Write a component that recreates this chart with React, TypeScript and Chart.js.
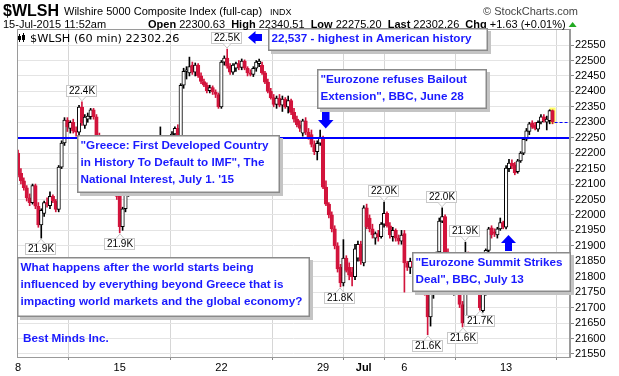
import React, { useEffect, useRef } from 'react';
import { Chart, registerables } from 'chart.js';

Chart.register(...registerables);

// ---------- data ----------
const sessionDays = ['Jun 8', 'Jun 9', 'Jun 10', 'Jun 11', 'Jun 12', 'Jun 15', 'Jun 16', 'Jun 17', 'Jun 18', 'Jun 19',
  'Jun 22', 'Jun 23', 'Jun 24', 'Jun 25', 'Jun 26', 'Jun 29', 'Jun 30', 'Jul 1', 'Jul 2', 'Jul 6', 'Jul 7', 'Jul 8',
  'Jul 9', 'Jul 10', 'Jul 13', 'Jul 14', 'Jul 15'];
const sessionHours = ['09:30', '10:30', '11:30', '12:30', '13:30', '14:30', '15:30'];

const opens = [
  22200, 22135, 22110, 22088, 22055, 22040, 22095, 22028, 21968, 22005, 22040, 22030, 22060, 22045,
  22018, 22155, 22233, 22307, 22280, 22300, 22272, 22268, 22349, 22290, 22310, 22318, 22340, 22318,
  22255, 22210, 22170, 22190, 22140, 22110, 22100, 22060, 21962, 22020, 22070, 22095, 22080, 22105,
  22090, 22110, 22130, 22120, 22150, 22165, 22150, 22190, 22240, 22215, 22230, 22220, 22262, 22280,
  22252, 22420, 22465, 22460, 22485, 22462, 22485, 22450, 22432, 22420, 22402, 22412, 22398, 22390,
  22350, 22495, 22508, 22482, 22462, 22475, 22490, 22478, 22498, 22475, 22460, 22455, 22475, 22490,
  22485, 22460, 22430, 22400, 22380, 22358, 22378, 22355, 22375, 22350, 22370, 22332, 22310, 22292,
  22265, 22305, 22268, 22260, 22228, 22205, 22232, 22250, 22090, 22035, 22000, 21955, 21900, 21830,
  21780, 21860, 21830, 21815, 21800, 21860, 21905, 21845, 22023, 21990, 21955, 21925, 21940, 21930,
  21970, 22005, 21965, 21930, 21950, 21925, 21915, 21940, 21845, 21830, 21850, 21830, 21845, 21810,
  21830, 21750, 21670, 21750, 21790, 21880, 21980, 21995, 21880, 21815, 21775, 21790, 21760, 21710,
  21650, 21860, 21830, 21800, 21770, 21760, 21690, 21745, 21885, 21958, 21945, 21935, 21955, 21975,
  21960, 22150, 22168, 22162, 22140, 22175, 22200, 22245, 22270, 22298, 22290, 22278, 22300, 22318,
  22300.63, 22305, 22338,
];
const highs = [
  22210, 22150, 22120, 22095, 22068, 22100, 22100, 22040, 22020, 22045, 22055, 22075, 22065, 22050,
  22160, 22240, 22315, 22315, 22305, 22310, 22285, 22355, 22366, 22325, 22330, 22345, 22345, 22325,
  22265, 22220, 22200, 22195, 22150, 22125, 22110, 22070, 22025, 22075, 22110, 22110, 22120, 22125,
  22120, 22140, 22150, 22160, 22175, 22180, 22200, 22285, 22255, 22240, 22250, 22270, 22285, 22292,
  22425, 22475, 22480, 22511, 22495, 22492, 22490, 22460, 22440, 22428, 22420, 22418, 22405, 22395,
  22500, 22515, 22537, 22490, 22490, 22495, 22500, 22505, 22502, 22480, 22470, 22480, 22500, 22505,
  22495, 22465, 22440, 22410, 22390, 22385, 22390, 22385, 22380, 22385, 22375, 22345, 22320, 22305,
  22310, 22315, 22280, 22275, 22240, 22240, 22275, 22255, 22110, 22040, 22010, 21965, 21910, 21840,
  21920, 21868, 21845, 21830, 21905, 21915, 21915, 22030, 22035, 22000, 21970, 21945, 21950, 21975,
  22042, 22010, 21975, 21960, 21955, 21935, 21950, 21950, 21850, 21860, 21870, 21860, 21865, 21840,
  21840, 21760, 21760, 21800, 21880, 21990, 22023, 22000, 21890, 21840, 21800, 21810, 21770, 21720,
  21912, 21880, 21850, 21820, 21790, 21765, 21750, 21890, 21960, 21965, 21955, 21960, 21990, 21980,
  22160, 22180, 22178, 22170, 22180, 22205, 22250, 22280, 22300, 22305, 22300, 22305, 22325, 22325,
  22320, 22340.51, 22340,
];
const lows = [
  22123, 22100, 22080, 22045, 22030, 22035, 22020, 21960, 21925, 21995, 22025, 22020, 22040, 22010,
  22010, 22150, 22225, 22270, 22265, 22265, 22255, 22260, 22290, 22280, 22300, 22310, 22310, 22245,
  22200, 22160, 22150, 22130, 22100, 22085, 22050, 21942, 21950, 22010, 22060, 22065, 22068, 22070,
  22080, 22100, 22110, 22115, 22140, 22140, 22145, 22180, 22200, 22195, 22205, 22210, 22240, 22245,
  22245, 22410, 22440, 22450, 22455, 22450, 22445, 22425, 22415, 22395, 22395, 22390, 22380, 22345,
  22345, 22485, 22475, 22455, 22455, 22465, 22470, 22470, 22470, 22450, 22450, 22448, 22465, 22480,
  22455, 22425, 22395, 22375, 22350, 22345, 22350, 22335, 22345, 22330, 22325, 22300, 22285, 22270,
  22255, 22260, 22245, 22220, 22195, 22178, 22225, 22085, 22030, 21990, 21945, 21890, 21815, 21767,
  21770, 21815, 21790, 21770, 21790, 21850, 21840, 21835, 21955, 21945, 21925, 21905, 21915, 21925,
  21960, 21960, 21925, 21915, 21915, 21905, 21905, 21750, 21820, 21810, 21820, 21815, 21800, 21790,
  21740, 21612, 21640, 21730, 21780, 21870, 21975, 21870, 21800, 21760, 21740, 21745, 21700, 21637,
  21640, 21810, 21790, 21760, 21750, 21692, 21685, 21740, 21875, 21925, 21930, 21925, 21950, 21955,
  21955, 22140, 22150, 22130, 22135, 22170, 22195, 22240, 22260, 22280, 22275, 22270, 22295, 22300,
  22275.2, 22295, 22295,
];
const closes = [
  22129, 22110, 22088, 22055, 22040, 22095, 22028, 21968, 22015, 22040, 22035, 22060, 22045, 22018,
  22155, 22233, 22307, 22285, 22300, 22272, 22268, 22349, 22298, 22317, 22320, 22340, 22318, 22255,
  22210, 22170, 22190, 22140, 22110, 22100, 22060, 21962, 22020, 22070, 22095, 22080, 22105, 22090,
  22110, 22130, 22120, 22150, 22165, 22150, 22190, 22240, 22215, 22230, 22220, 22262, 22280, 22252,
  22420, 22465, 22470, 22480, 22462, 22485, 22450, 22432, 22420, 22402, 22412, 22398, 22390, 22350,
  22495, 22508, 22482, 22462, 22485, 22490, 22478, 22498, 22475, 22460, 22455, 22475, 22495, 22498,
  22460, 22430, 22400, 22380, 22358, 22378, 22355, 22375, 22350, 22370, 22332, 22310, 22292, 22280,
  22305, 22268, 22250, 22228, 22205, 22232, 22252, 22090, 22035, 22000, 21955, 21900, 21825, 21780,
  21860, 21820, 21805, 21800, 21890, 21905, 21850, 22023, 21962, 21955, 21935, 21940, 21930, 21970,
  22005, 21965, 21935, 21950, 21925, 21915, 21935, 21845, 21830, 21850, 21830, 21845, 21810, 21825,
  21750, 21670, 21750, 21790, 21870, 21980, 21995, 21880, 21815, 21775, 21790, 21760, 21710, 21650,
  21860, 21830, 21800, 21770, 21760, 21700, 21745, 21885, 21955, 21935, 21940, 21955, 21975, 21960,
  22152, 22168, 22158, 22136, 22175, 22200, 22245, 22272, 22295, 22285, 22280, 22300, 22318, 22305,
  22310, 22338, 22302.26,
];

const barLabels = sessionDays.flatMap(d => sessionHours.map(h => `${d} ${h}`)).slice(0, closes.length);

const xTickBars = [0, 35, 70, 105, 119, 133, 168];
const xTickLabels = ['8', '15', '22', '29', 'Jul', '6', '13'];
const yTickValues = [21550, 21600, 21650, 21700, 21750, 21800, 21850, 21900, 21950, 22000, 22050, 22100,
  22150, 22200, 22250, 22300, 22350, 22400, 22450, 22500, 22550];

const supportLevel = 22250;

// high / low value tags: bar index, text, above?
const tagBars = [22, 8, 35, 72, 111, 126, 146, 141, 153, 154, 159];
const tagTexts = ['22.4K', '21.9K', '21.9K', '22.5K', '21.8K', '22.0K', '22.0K', '21.6K', '21.6K', '21.9K', '21.7K'];
const tagAbove = [true, false, false, true, false, true, true, false, false, true, false];

const headerQuote = [
  ['Open', ' 22300.63  '], ['High', ' 22340.51  '], ['Low', ' 22275.20  '], ['Last', ' 22302.26  '], ['Chg', ' +1.63 (+0.01%)'],
];

const notes = [
  { x: 268, y: 28, w: 220, h: 23, lines: ['22,537 - highest in American history'] },
  { x: 317, y: 69, w: 170, h: 40, lines: ['"Eurozone refuses Bailout', 'Extension", BBC, June 28'] },
  { x: 77, y: 135, w: 203, h: 58, lines: ['"Greece: First Developed Country', 'in History To Default to IMF", The', "National Interest, July 1. '15"] },
  { x: 17, y: 257, w: 293, h: 60, lines: ['What happens after the world starts being', 'influenced by everything beyond Greece that is', 'impacting world markets and the global economy?'] },
  { x: 412, y: 252, w: 159, h: 40, lines: ['"Eurozone Summit Strikes', 'Deal", BBC, July 13'] },
];

const FONT = '"Liberation Sans", Arial, sans-serif';
const BLUE = '#1a1aff';
const RED = '#d2143c';

function drawNote(ctx: CanvasRenderingContext2D, n: { x: number; y: number; w: number; h: number; lines: string[] }) {
  ctx.fillStyle = '#c4c4c4';
  ctx.fillRect(n.x + 3, n.y + 3, n.w, n.h);
  ctx.fillStyle = '#ffffff';
  ctx.fillRect(n.x, n.y, n.w, n.h);
  ctx.strokeStyle = '#8a8a8a';
  ctx.lineWidth = 1.5;
  ctx.strokeRect(n.x + 0.75, n.y + 0.75, n.w - 1.5, n.h - 1.5);
  ctx.fillStyle = BLUE;
  ctx.font = `bold 11.7px ${FONT}`;
  ctx.textAlign = 'left';
  ctx.textBaseline = 'middle';
  n.lines.forEach((t, k) => ctx.fillText(t, n.x + 3.5, n.y + 11 + k * 16.8));
}

function poly(ctx: CanvasRenderingContext2D, pts: number[][]) {
  ctx.beginPath();
  ctx.moveTo(pts[0][0], pts[0][1]);
  for (let i = 1; i < pts.length; i++) ctx.lineTo(pts[i][0], pts[i][1]);
  ctx.closePath();
  ctx.fill();
}

const decor = {
  id: 'decor',
  beforeDatasetsDraw(chart: any) {
    const { ctx, scales } = chart;
    const last = closes.length - 1;
    const x = scales.x.getPixelForValue(last);
    const yT = scales.y.getPixelForValue(Math.max(opens[last], closes[last]));
    const yB = scales.y.getPixelForValue(Math.min(opens[last], closes[last]));
    ctx.save();
    ctx.fillStyle = '#ffff66';
    ctx.fillRect(x - 3, yT - 3, 6, yB - yT + 5);
    ctx.restore();
  },
  afterDatasetsDraw(chart: any) {
    const { ctx, scales, chartArea } = chart;
    ctx.save();
    const y = Math.round(scales.y.getPixelForValue(supportLevel));
    ctx.strokeStyle = '#0000ff';
    ctx.lineWidth = 2;
    ctx.beginPath();
    ctx.moveTo(chartArea.left, y);
    ctx.lineTo(chartArea.right, y);
    ctx.stroke();
    const last = closes.length - 1;
    const yl = Math.round(scales.y.getPixelForValue(closes[last])) + 0.5;
    ctx.lineWidth = 1;
    ctx.setLineDash([3, 2]);
    ctx.beginPath();
    ctx.moveTo(scales.x.getPixelForValue(last) + 2, yl);
    ctx.lineTo(chartArea.right, yl);
    ctx.stroke();
    ctx.setLineDash([]);
    ctx.strokeStyle = '#9a9a9a';
    ctx.lineWidth = 1;
    ctx.strokeRect(chartArea.left + 0.5, chartArea.top + 0.5, chartArea.right - chartArea.left - 1, chartArea.bottom - chartArea.top);
    ctx.restore();
  },
  afterDraw(chart: any) {
    const { ctx, scales } = chart;
    ctx.save();
    ctx.textAlign = 'left';
    ctx.textBaseline = 'alphabetic';
    ctx.fillStyle = '#000';
    ctx.font = `bold 16px ${FONT}`;
    ctx.fillText('$WLSH', 3, 16);
    ctx.font = `11px ${FONT}`;
    ctx.fillText('Wilshire 5000 Composite Index (full-cap)', 64, 15);
    ctx.font = `9px ${FONT}`;
    ctx.fillText('INDX', 270, 15);
    ctx.font = `11px ${FONT}`;
    ctx.fillStyle = '#444';
    ctx.textAlign = 'right';
    ctx.fillText('\u00a9 StockCharts.com', 578, 15);
    ctx.textAlign = 'left';
    ctx.fillStyle = '#000';
    ctx.fillText('15-Jul-2015 11:52am', 3, 28);
    let hx = 148;
    headerQuote.forEach(([lab, val]) => {
      ctx.font = `bold 11px ${FONT}`;
      ctx.fillText(lab, hx, 28);
      hx += ctx.measureText(lab).width;
      ctx.font = `11px ${FONT}`;
      ctx.fillText(val, hx, 28);
      hx += ctx.measureText(val).width;
    });
    ctx.fillStyle = '#22aa22';
    poly(ctx, [[hx + 3, 27], [hx + 11, 27], [hx + 7, 22]]);

    ctx.fillStyle = '#000';
    ctx.fillRect(19, 34, 1, 8);
    ctx.fillRect(18, 36, 3, 4);
    ctx.fillRect(23, 33, 1, 9);
    ctx.strokeStyle = '#000';
    ctx.lineWidth = 1;
    ctx.strokeRect(22.5, 35.5, 2, 4);
    ctx.font = `11.3px "DejaVu Sans", sans-serif`;
    ctx.fillText('$WLSH (60 min) 22302.26', 30, 42);

    tagBars.forEach((b, k) => {
      const cx = Math.round(scales.x.getPixelForValue(b));
      const above = tagAbove[k];
      const py = scales.y.getPixelForValue(above ? highs[b] : lows[b]);
      ctx.font = `10px ${FONT}`;
      const w = Math.round(ctx.measureText(tagTexts[k]).width) + 5;
      const h = 12;
      const bx = cx - Math.round(w / 2);
      const by = above ? Math.round(py - 5 - h) : Math.round(py + 5);
      const edge = above ? by + h : by;
      const tip = above ? py - 1 : py + 1;
      ctx.fillStyle = '#fff';
      ctx.fillRect(bx, by, w, h);
      ctx.strokeStyle = '#c8c8c8';
      ctx.lineWidth = 1;
      ctx.strokeRect(bx + 0.5, by + 0.5, w - 1, h - 1);
      ctx.beginPath();
      ctx.moveTo(cx - 4, edge + (above ? -0.5 : 0.5));
      ctx.lineTo(cx, tip);
      ctx.lineTo(cx + 4, edge + (above ? -0.5 : 0.5));
      ctx.fill();
      ctx.stroke();
      ctx.fillStyle = '#000';
      ctx.textAlign = 'center';
      ctx.textBaseline = 'middle';
      ctx.fillText(tagTexts[k], cx, by + h / 2 + 0.5);
    });

    notes.forEach(n => drawNote(ctx, n));
    ctx.fillStyle = BLUE;
    ctx.font = `bold 11.7px ${FONT}`;
    ctx.textAlign = 'left';
    ctx.textBaseline = 'middle';
    ctx.fillText('Best Minds Inc.', 23, 339);

    ctx.fillStyle = '#0000ff';
    poly(ctx, [[248, 37.5], [255.5, 31], [255.5, 34], [262, 34], [262, 41], [255.5, 41], [255.5, 44]]);
    poly(ctx, [[322, 112], [329.5, 112], [329.5, 120], [333.5, 120], [325.75, 128.5], [318, 120], [322, 120]]);
    poly(ctx, [[508.5, 235], [516, 243], [512, 243], [512, 251], [505, 251], [505, 243], [501, 243]]);
    ctx.restore();
  },
};

export default function App() {
  const ref = useRef<HTMLCanvasElement>(null);
  useEffect(() => {
    document.body.style.margin = '0';
    const canvas = ref.current!;
    const idx = closes.map((_, i) => i);
    const up = idx.map(i => closes[i] >= opens[i]);
    const chart = new Chart(canvas, {
      type: 'bar',
      data: {
        labels: barLabels,
        datasets: [
          {
            label: 'body',
            data: idx.map(i => ({ x: i, y: [Math.min(opens[i], closes[i]), Math.max(opens[i], closes[i])] })) as any,
            backgroundColor: idx.map(i => (up[i] ? '#ffffff' : RED)),
            borderColor: idx.map(i => (up[i] ? '#000000' : RED)),
            borderWidth: 1,
            borderSkipped: false,
            barThickness: 3.5,
            grouped: false,
            order: 1,
          } as any,
          {
            label: 'wick',
            data: idx.map(i => ({ x: i, y: [lows[i], highs[i]] })) as any,
            backgroundColor: idx.map(i => (up[i] ? '#000000' : RED)),
            borderWidth: 0,
            barThickness: 1,
            grouped: false,
            order: 2,
          } as any,
        ],
      },
      options: {
        responsive: false,
        animation: false,
        layout: { padding: { left: 17, top: 29, right: 0, bottom: 0 } },
        plugins: { legend: { display: false }, tooltip: { enabled: false } },
        scales: {
          x: {
            type: 'linear',
            min: -0.35,
            max: 190,
            offset: false,
            afterBuildTicks: (s: any) => { s.ticks = xTickBars.map(v => ({ value: v })); },
            afterFit: (s: any) => { s.height = 19; },
            ticks: {
              autoSkip: false,
              maxRotation: 0,
              padding: 1,
              color: '#000',
              font: (c: any) => ({ family: FONT, size: 11, weight: c.tick && c.tick.value === 119 ? 'bold' : 'normal' }),
              callback: (_v: any, i: number) => xTickLabels[i],
            },
            grid: { color: '#d6d6d6', tickLength: 3, tickColor: '#888' },
            border: { display: true, color: '#9a9a9a' },
          },
          y: {
            position: 'right',
            min: 21540,
            max: 22602,
            afterBuildTicks: (s: any) => { s.ticks = yTickValues.map(v => ({ value: v })); },
            afterFit: (s: any) => { s.width = 49; },
            ticks: { padding: 1, color: '#000', font: { family: FONT, size: 11 }, callback: (v: any) => String(v) },
            grid: { color: '#e4e4e4', tickLength: 4, tickColor: '#888' },
            border: { display: true, color: '#9a9a9a' },
          },
        },
      } as any,
      plugins: [decor],
    });
    return () => chart.destroy();
  }, []);
  return (
    <div style={{ width: 619, height: 376, background: '#fff' }}>
      <canvas ref={ref} width={619} height={376} style={{ display: 'block' }} />
    </div>
  );
}
